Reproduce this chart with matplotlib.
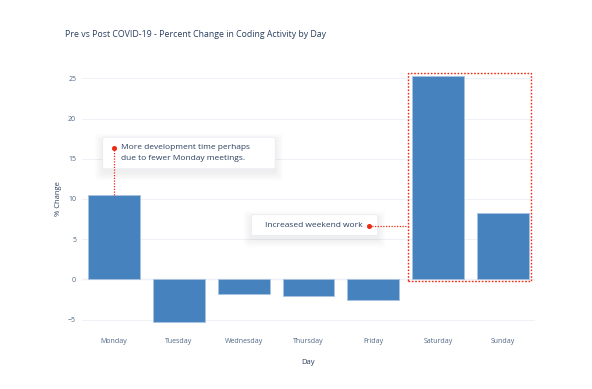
import matplotlib
matplotlib.use("Agg")
import matplotlib.pyplot as plt
from matplotlib.patches import FancyBboxPatch, Rectangle

days = ["Monday", "Tuesday", "Wednesday", "Thursday", "Friday", "Saturday", "Sunday"]
pct_change = [10.5, -5.3, -1.8, -2.0, -2.5, 25.3, 8.2]
y_ticks = [-5, 0, 5, 10, 15, 20, 25]
y_tick_labels = ["−5", "0", "5", "10", "15", "20", "25"]

title = "Pre vs Post COVID-19 - Percent Change in Coding Activity by Day"
note_monday = ["More development time perhaps", "due to fewer Monday meetings."]
note_weekend = "Increased weekend work"

plt.rcParams['font.family'] = ['Open Sans', 'DejaVu Sans']
text_col = '#2a3f5f'
tick_col = '#506784'
bar_col = '#4682be'
red = '#ee2a12'

fig = plt.figure(figsize=(5.92, 3.89), dpi=100)
ax = fig.add_axes([0.138, 0.139, 0.766, 0.699])

x = range(len(days))
ax.bar(x, pct_change, width=0.8, color=bar_col, edgecolor='#a9c3df', linewidth=0.6, zorder=3)

ax.set_xlim(-0.5, 6.5)
ax.set_ylim(-6.9, 26.9)
ax.set_yticks(y_ticks)
ax.set_yticklabels(y_tick_labels)
ax.set_xticks(list(x))
ax.set_xticklabels(days)
ax.tick_params(length=0, labelsize=5, colors=tick_col, pad=4)
ax.tick_params(axis='x', pad=2.5)
ax.grid(axis='y', color='#eef1f6', linewidth=0.7, zorder=0)
ax.axhline(0, color='#e6eaf0', linewidth=1.0, zorder=1)
for s in ax.spines.values():
    s.set_visible(False)

ax.set_xlabel("Day", fontsize=5.5, color=text_col, labelpad=10)
ax.set_ylabel("% Change", fontsize=5.5, color=text_col, labelpad=4)
fig.text(0.11, 0.912, title, fontsize=6.3, color=text_col, ha='left', va='center')

# weekend highlight
ax.add_patch(Rectangle((4.53, -0.2), 1.91, 25.8, fill=False, edgecolor=red,
                       linestyle=(0, (1.2, 1.2)), linewidth=1.0, zorder=4, clip_on=False))


def note_box(x0, y0, x1, y1):
    # soft shadow then white box
    for i in range(8):
        ax.add_patch(FancyBboxPatch((x0, y0 - 0.5), x1 - x0, y1 - y0,
                                    boxstyle=f"round,pad={0.01 + i * 0.016},rounding_size=0.05",
                                    mutation_aspect=8, facecolor='#1a2a44', edgecolor='none',
                                    alpha=0.006, zorder=5))
    ax.add_patch(FancyBboxPatch((x0, y0), x1 - x0, y1 - y0,
                                boxstyle="round,pad=0,rounding_size=0.03", mutation_aspect=8,
                                facecolor='white', edgecolor='#e9ecf1', linewidth=0.6, zorder=6))


# Monday note
note_box(-0.176, 13.75, 2.488, 17.68)
ax.plot([0, 0], [pct_change[0], 16.36], color=red, linestyle=(0, (1, 1.2)), linewidth=0.9, zorder=7)
ax.plot(0, 16.36, 'o', color=red, markersize=2.6, zorder=8)
for line, yy in zip(note_monday, [16.36, 15.03]):
    ax.text(0.1, yy, line, fontsize=6.0, color=text_col, ha='left', va='center', zorder=8)

# weekend note
note_box(2.12, 5.47, 4.07, 8.04)
ax.plot([3.94, 4.53], [6.7, 6.7], color=red, linestyle=(0, (1, 1.2)), linewidth=0.9, zorder=7)
ax.plot(3.94, 6.7, 'o', color=red, markersize=2.6, zorder=8)
ax.text(3.83, 6.7, note_weekend, fontsize=6.0, color=text_col, ha='right', va='center', zorder=8)

fig.savefig("out.png", dpi=100, facecolor='white')
